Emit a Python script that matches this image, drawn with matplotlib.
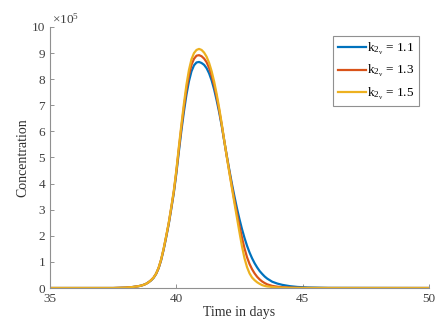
import matplotlib
matplotlib.use("Agg")
import matplotlib.pyplot as plt

plt.rcParams['font.family'] = ['Liberation Serif', 'DejaVu Serif']
plt.rcParams['mathtext.fontset'] = 'custom'
plt.rcParams['mathtext.rm'] = 'Liberation Serif'
plt.rcParams['mathtext.it'] = 'Liberation Serif:italic'

# time in days
t = [35.0, 37.5, 38.0, 38.25, 38.5,
     38.6, 38.7, 38.8, 38.9,
     39.0, 39.1, 39.2, 39.3, 39.4, 39.5, 39.6, 39.7, 39.8, 39.9,
     40.0, 40.1, 40.2, 40.3, 40.4, 40.5, 40.6, 40.7, 40.8, 40.9,
     41.0, 41.1, 41.2, 41.3, 41.4, 41.5, 41.6, 41.7, 41.8, 41.9,
     42.0, 42.1, 42.2, 42.3, 42.4, 42.5, 42.6, 42.7, 42.8, 42.9,
     43.0, 43.1, 43.2, 43.3, 43.4, 43.5, 43.6,
     43.8, 44.0, 44.2, 44.5, 44.8, 45.2, 46.0, 50.0]

# concentration, in units of 1e5
c_11 = [0, 0, 0.015, 0.035, 0.07,
        0.09, 0.12, 0.16, 0.22,
        0.29, 0.39, 0.54, 0.76, 1.07, 1.48, 1.95, 2.45, 3.03, 3.64,
        4.38, 5.22, 6.02, 6.75, 7.40, 7.92, 8.30, 8.53, 8.64, 8.66,
        8.62, 8.55, 8.42, 8.22, 7.95, 7.60, 7.18, 6.72, 6.20, 5.62,
        5.06, 4.52, 4.00, 3.52, 3.06, 2.64, 2.26, 1.92, 1.62, 1.36,
        1.14, 0.95, 0.79, 0.65, 0.54, 0.44, 0.36,
        0.24, 0.17, 0.12, 0.07, 0.04, 0.02, 0.005, 0]
c_13 = [0, 0, 0.015, 0.035, 0.07,
        0.09, 0.12, 0.16, 0.22,
        0.30, 0.40, 0.55, 0.77, 1.09, 1.50, 1.98, 2.48, 3.07, 3.68,
        4.45, 5.32, 6.15, 6.92, 7.60, 8.15, 8.55, 8.78, 8.90, 8.92,
        8.88, 8.79, 8.65, 8.43, 8.13, 7.76, 7.31, 6.80, 6.24, 5.63,
        5.03, 4.46, 3.90, 3.36, 2.86, 2.38, 1.93, 1.52, 1.18, 0.92,
        0.72, 0.56, 0.43, 0.33, 0.25, 0.19, 0.14,
        0.08, 0.05, 0.03, 0.015, 0.007, 0.002, 0, 0]
c_15 = [0, 0, 0.015, 0.035, 0.07,
        0.09, 0.12, 0.16, 0.22,
        0.30, 0.40, 0.55, 0.78, 1.10, 1.52, 2.00, 2.50, 3.10, 3.72,
        4.50, 5.40, 6.25, 7.05, 7.78, 8.35, 8.76, 9.00, 9.12, 9.16,
        9.12, 9.02, 8.86, 8.62, 8.30, 7.90, 7.42, 6.88, 6.28, 5.64,
        5.02, 4.42, 3.84, 3.26, 2.70, 2.14, 1.60, 1.14, 0.80, 0.56,
        0.40, 0.30, 0.22, 0.16, 0.11, 0.08, 0.06,
        0.04, 0.02, 0.012, 0.006, 0.002, 0, 0, 0]

k_vals = ['1.1', '1.3', '1.5']
colors = ['#0072BD', '#D95319', '#EDB120']

fig = plt.figure(figsize=(4.43, 3.29), dpi=100)
ax = fig.add_axes([0.113, 0.1246, 0.855, 0.7934])

for vals, k, col in zip([c_11, c_13, c_15], k_vals, colors):
    ax.plot(t, [v * 1e5 for v in vals], color=col, lw=1.6,
            solid_joinstyle='round', label=r'$\mathrm{k_{2_{v}}}$ = ' + k)

ax.set_xlim(35, 50)
ax.set_ylim(0, 10e5)
ax.set_xticks([35, 40, 45, 50])
ax.set_yticks([i * 1e5 for i in range(11)])
ax.set_yticklabels([str(i) for i in range(11)])
ax.tick_params(direction='in', length=3, labelsize=9.5, labelcolor='#404040',
               width=0.6, color='#808080')
for s in ['top', 'right']:
    ax.spines[s].set_visible(False)
for s in ['left', 'bottom']:
    ax.spines[s].set_color('#909090')
    ax.spines[s].set_linewidth(0.8)

ax.text(0.005, 1.0, r'$\times\mathrm{10^5}$', transform=ax.transAxes,
        fontsize=9.5, color='#404040', va='bottom', ha='left')

ax.set_xlabel('Time in days', fontsize=10, color='#303030', labelpad=1)
ax.set_ylabel('Concentration', fontsize=10, color='#303030', labelpad=1.5)

leg = ax.legend(loc='upper right', bbox_to_anchor=(0.974, 0.966),
                borderaxespad=0, fontsize=9.5, handlelength=2.1,
                handletextpad=0.1, borderpad=0.35, labelspacing=0.5,
                fancybox=False, framealpha=1, edgecolor='#909090')
leg.get_frame().set_linewidth(0.8)

fig.savefig('out.png', dpi=100)
